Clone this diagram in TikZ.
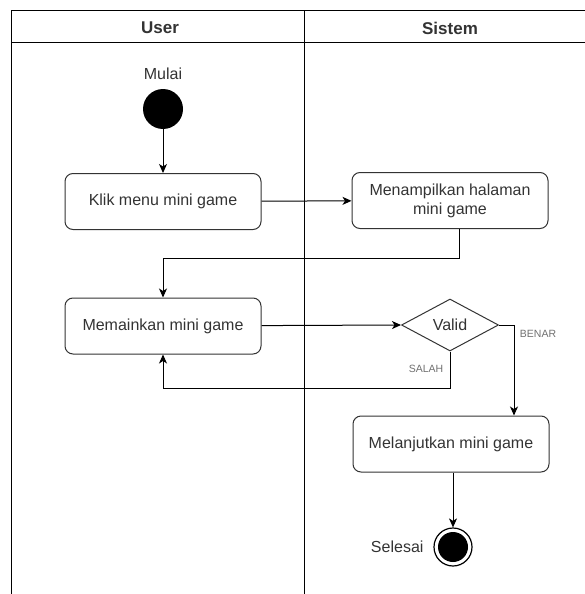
\documentclass[tikz,border=0pt]{standalone}
\usepackage{fontspec}
\setmainfont{Liberation Sans}
\usetikzlibrary{arrows.meta,shapes.geometric}
\definecolor{ink}{HTML}{333333}
\definecolor{lbl}{HTML}{707070}
\begin{document}
\begin{tikzpicture}[x=1pt,y=-1pt,
  lane/.style={draw=black,line width=1pt},
  act/.style={draw=ink,line width=1pt,rounded corners=8pt,minimum width=196pt,
    minimum height=56pt,align=center,text=ink,font=\fontsize{16}{19}\selectfont,inner sep=2pt},
  dec/.style={draw=ink,line width=1pt,diamond,aspect=1.87,minimum width=97pt,
    minimum height=52pt,inner sep=0pt,text=ink,font=\fontsize{16}{19}\selectfont},
  arr/.style={draw=black,line width=1pt,-{Stealth[length=9pt,width=8pt,inset=2.5pt]}},
  line/.style={draw=black,line width=1pt},
  head/.style={font=\bfseries\fontsize{17}{20}\selectfont,text=ink},
  txt/.style={font=\fontsize{16}{19}\selectfont,text=ink},
  small/.style={font=\fontsize{10.5}{12}\selectfont,text=lbl}]
\useasboundingbox (0,0) rectangle (585,594);

% swimlanes
\draw[lane] (585,11) -- (11,11) -- (11,594);
\draw[lane] (11,43) -- (585,43);
\draw[lane] (304,11) -- (304,594);
\node[head] (hUser) at (160,28) {User};
\node[head] (hSistem) at (450,28) {Sistem};

% start
\node[txt] (mulai) at (163,74) {Mulai};
\node[circle,fill=black,minimum size=40pt,inner sep=0pt] (start) at (163,109) {};

% activities
\node[act] (klik) at (163,201.5) {Klik menu mini game};
\node[act] (tampil) at (450,200.5) {Menampilkan halaman\\mini game};
\node[act] (main) at (163,326) {Memainkan mini game};
\node[dec] (valid) at (450,325) {Valid};
\node[act] (lanjut) at (451,444) {Melanjutkan mini game};

% end
\node[circle,draw=black,line width=1.2pt,minimum size=38pt,inner sep=0pt] (selesaiNode) at (453,547) {};
\fill[black] (selesaiNode.center) circle (15pt);
\node[txt,anchor=east] (selesai) at (427,547) {Selesai};

% bend points
\coordinate (b1) at (163,258);
\coordinate (b2) at (163,388);

% flows
\draw[arr] (start) -- (klik);
\draw[arr] (klik) -- (tampil);
\draw[arr] ([xshift=9pt]tampil.south) |- (b1) -- (main.north);
\draw[arr] (main) -- (valid.west);
\draw[arr] (valid.east) -| ([xshift=63pt]lanjut.north);
\draw[arr] (valid.south) |- (b2) -- (main.south);
\draw[arr] (lanjut.south -| selesaiNode) -- (selesaiNode.north);

% guard labels
\node[small] (benar) at (538,334) {BENAR};
\node[small] (salah) at (426,369) {SALAH};
\end{tikzpicture}
\end{document}
